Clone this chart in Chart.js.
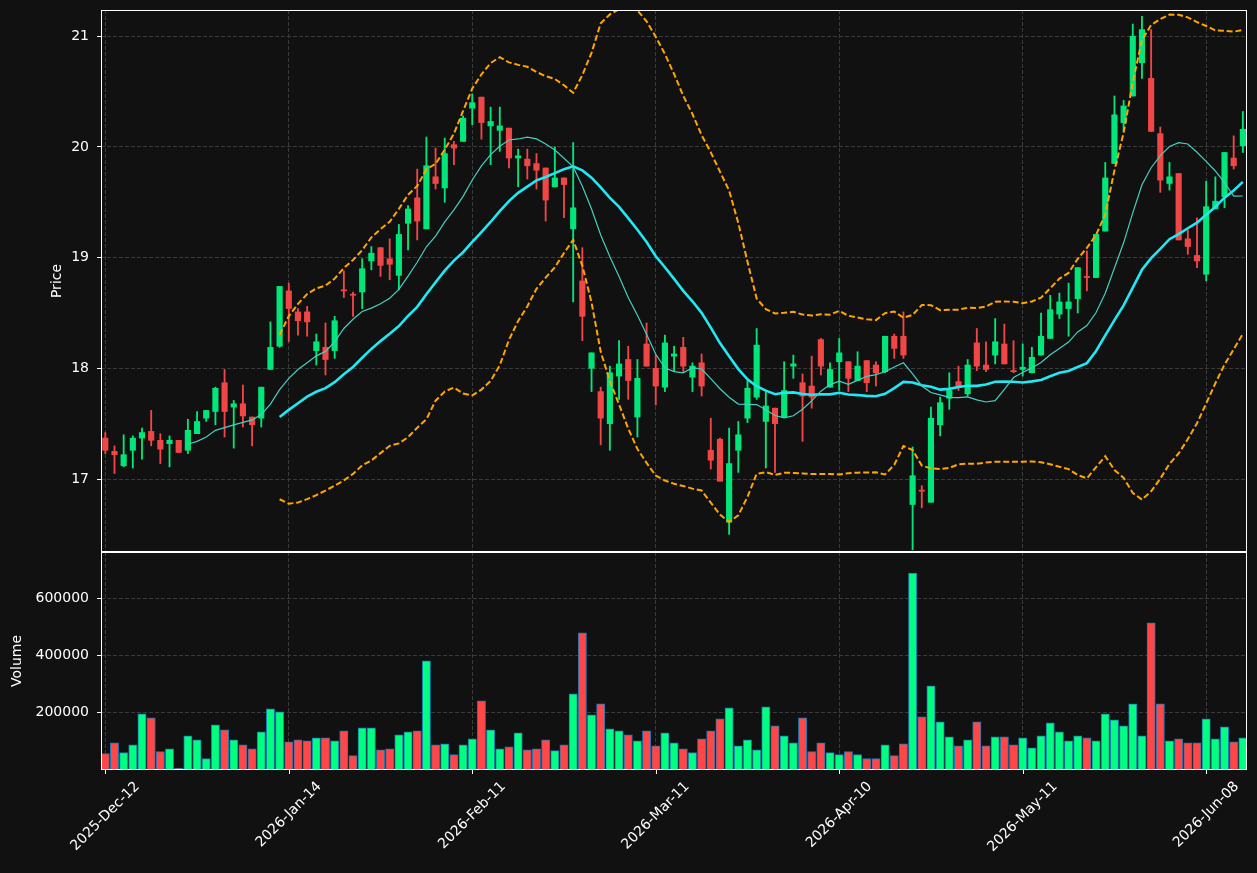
<!DOCTYPE html>
<html><head><meta charset="utf-8">
<script src="https://cdn.jsdelivr.net/npm/chart.js@4.4.1/dist/chart.umd.min.js"></script>
<style>
html,body{margin:0;padding:0;background:#111111;}
#wrap{position:relative;width:1257px;height:873px;background:#111111;overflow:hidden;}
canvas{position:absolute;left:0;}
#pc{top:0;}
#vc{top:552px;}
</style></head><body>
<div id="wrap"><canvas id="pc" width="1257" height="552"></canvas><canvas id="vc" width="1257" height="321"></canvas></div>
<script>
// ---- data ----
const tickPositions = [0, 20, 40, 60, 80, 100, 120];
const tickLabels = ['2025-Dec-12','2026-Jan-14','2026-Feb-11','2026-Mar-11','2026-Apr-10','2026-May-11','2026-Jun-08'];
const priceTicks = [17, 18, 19, 20, 21];
const volumeTicks = [200000, 400000, 600000];

const open = [17.37,17.25,17.12,17.26,17.37,17.43,17.35,17.32,17.35,17.26,17.41,17.55,17.61,17.87,17.65,17.68,17.56,17.55,17.99,18.20,
18.70,18.51,18.51,18.16,18.19,18.16,18.71,18.67,18.69,18.97,19.09,18.99,18.84,19.31,19.54,19.26,19.73,19.63,20.02,20.05,
20.35,20.45,20.19,20.15,20.17,19.90,19.89,19.85,19.81,19.64,19.72,19.26,18.79,18.00,17.79,17.50,17.93,18.08,17.56,18.22,
18.00,17.83,18.11,18.19,17.92,18.05,17.26,17.36,16.61,17.26,17.55,17.74,17.52,17.64,17.56,18.02,17.87,17.84,18.26,17.83,
18.06,18.06,17.89,18.07,18.03,17.97,18.29,18.29,16.77,16.90,16.79,17.49,17.73,17.88,17.77,18.23,18.03,18.12,18.22,17.98,
17.99,17.96,18.12,18.27,18.49,18.54,18.63,18.83,18.82,19.24,19.85,20.22,20.46,20.76,20.62,20.12,19.67,19.76,19.17,19.02,
18.85,19.44,19.55,19.90,20.01];
const high = [17.42,17.30,17.40,17.39,17.46,17.62,17.41,17.39,17.35,17.54,17.61,17.62,17.83,17.99,17.71,17.85,17.56,17.83,18.42,18.74,
18.77,18.54,18.56,18.31,18.41,18.47,18.88,18.69,18.99,19.10,19.09,19.17,19.30,19.47,19.80,20.09,19.99,20.08,20.05,20.28,
20.48,20.45,20.36,20.36,20.17,19.98,19.98,19.94,19.81,20.00,19.72,20.04,19.09,18.14,17.83,18.02,18.25,18.20,18.08,18.41,
18.12,18.30,18.20,18.28,18.05,18.13,17.55,17.37,17.46,17.52,17.89,18.36,17.80,17.64,18.06,18.12,17.95,18.11,18.27,18.05,
18.27,18.06,18.15,18.07,18.06,18.29,18.31,18.51,17.29,16.94,17.65,17.74,17.96,18.02,18.08,18.36,18.24,18.45,18.40,18.25,
18.22,18.19,18.50,18.66,18.68,18.77,18.91,19.06,19.21,19.86,20.46,20.42,21.11,21.18,21.06,20.18,19.86,19.76,19.25,19.36,
19.69,19.73,19.95,20.10,20.32];
const low = [17.23,17.05,17.11,17.10,17.18,17.30,17.14,17.11,17.24,17.23,17.41,17.52,17.49,17.38,17.28,17.47,17.30,17.47,17.99,18.19,
18.24,18.30,18.29,18.03,17.94,18.09,18.64,18.47,18.54,18.89,18.83,18.80,18.71,19.07,19.16,19.26,19.62,19.50,19.84,20.05,
20.20,20.07,19.84,19.96,19.81,19.64,19.71,19.62,19.33,19.64,19.36,18.60,18.25,17.79,17.31,17.26,17.72,17.72,17.38,18.02,
17.67,17.79,17.97,17.97,17.79,17.75,17.09,16.98,16.50,17.06,17.51,17.72,17.10,17.06,17.56,17.91,17.34,17.64,17.94,17.83,
17.80,17.79,17.89,17.79,17.84,17.96,18.09,18.09,16.36,16.74,16.79,17.39,17.63,17.80,17.75,17.98,17.97,18.04,18.04,17.96,
17.93,17.96,18.12,18.27,18.45,18.29,18.50,18.70,18.82,19.24,19.85,20.14,20.46,20.62,20.14,19.59,19.61,19.16,19.03,18.91,
18.79,19.44,19.45,19.80,19.95];
const close = [17.26,17.22,17.22,17.37,17.42,17.35,17.27,17.35,17.24,17.44,17.52,17.62,17.82,17.61,17.68,17.57,17.49,17.83,18.19,18.74,
18.54,18.43,18.42,18.24,18.08,18.43,18.70,18.66,18.90,19.04,18.93,18.94,19.21,19.44,19.33,19.83,19.67,19.94,19.99,20.26,
20.40,20.22,20.23,20.19,19.90,19.92,19.83,19.79,19.52,19.72,19.66,19.45,18.47,18.14,17.55,17.96,18.04,17.89,17.91,18.02,
17.84,18.23,18.13,18.02,18.02,17.84,17.17,16.98,17.14,17.40,17.82,18.21,17.66,17.50,17.80,18.04,17.75,17.74,18.02,17.99,
18.14,17.91,18.02,17.87,17.96,18.29,18.18,18.12,17.03,16.89,17.55,17.69,17.80,17.84,18.03,18.02,17.99,18.24,18.04,17.97,
18.01,18.10,18.29,18.53,18.60,18.60,18.91,18.82,19.21,19.72,20.29,20.37,21.00,21.06,20.14,19.70,19.73,19.16,19.10,18.97,
19.46,19.51,19.95,19.83,20.16];
const volume = [57000,95400,60500,88400,196500,182600,64000,74400,7000,119800,105800,39500,158200,140700,105800,88400,74400,133700,214000,203500,
98900,105800,102300,112800,112800,102300,137200,50000,147700,147700,70900,74400,123300,133700,137200,381500,88400,91900,53500,88400,
109300,241900,140700,74400,81400,130300,70900,74400,105800,67500,88400,266300,479200,193100,231400,144200,137200,123300,102300,137200,
84900,130300,95400,74400,60500,109300,137200,179100,217500,84900,105800,70900,221000,154700,119800,95400,182600,64000,95400,60500,
53500,64000,53500,39500,39500,88400,50000,91900,688500,186100,294200,168600,116300,84900,105800,168600,84900,116300,116300,88400,
112800,77900,119800,165100,133700,102300,119800,112800,102300,196500,175600,154700,231400,119800,514000,231400,102300,109300,95400,95400,
179100,109300,151200,98900,112800];

// ---- indicators from the close series ----
function rollingMean(vals, n) {
  return vals.map((_, i) => {
    if (i < n - 1) return null;
    let s = 0; for (let k = i - n + 1; k <= i; k++) s += vals[k];
    return s / n;
  });
}
function rollingStd(vals, n) {
  const m = rollingMean(vals, n);
  return vals.map((_, i) => {
    if (i < n - 1) return null;
    let s = 0; for (let k = i - n + 1; k <= i; k++) s += (vals[k] - m[i]) ** 2;
    return Math.sqrt(s / (n - 1));
  });
}
const ma10 = rollingMean(close, 10);
const ma20 = rollingMean(close, 20);
const sd20 = rollingStd(close, 20);
const bbUpper = ma20.map((v, i) => v === null ? null : v + 2 * sd20[i]);
const bbLower = ma20.map((v, i) => v === null ? null : v - 2 * sd20[i]);

const pts = arr => arr.map((v, i) => ({x: i, y: v})).filter(p => p.y !== null);
const isUp = close.map((c, i) => c >= open[i]);

// ---- styling ----
const FONT = 'DejaVu Sans';
const GRID = '#3b3b3b';
const candleColors = isUp.map(u => u ? '#00e67a' : '#f04646');
const volColors = isUp.map(u => u ? '#00ff80' : '#ff4747');
const X_MIN = -0.47, X_MAX = 124.45;

Chart.defaults.color = '#ffffff';
Chart.defaults.font.family = FONT;
Chart.defaults.font.size = 14;

const zeroPad = s => { s.paddingTop = 0; s.paddingBottom = 0; s.paddingLeft = 0; s.paddingRight = 0; };
const setXTicks = s => { s.ticks = tickPositions.map(v => ({value: v})); };

const framePlugin = {
  id: 'frame',
  afterDraw(chart) {
    const {ctx, chartArea: a} = chart;
    ctx.save();
    ctx.strokeStyle = '#ffffff';
    ctx.lineWidth = 1;
    ctx.setLineDash([]);
    ctx.strokeRect(Math.round(a.left) + 0.5, Math.round(a.top) + 0.5,
      Math.round(a.right - a.left) - 1, Math.round(a.bottom - a.top) - 1);
    ctx.restore();
  }
};

const xLabelPlugin = {
  id: 'xlabels',
  afterDraw(chart) {
    const {ctx, chartArea: a} = chart;
    const s = chart.scales.x;
    ctx.save();
    ctx.fillStyle = '#ffffff';
    ctx.strokeStyle = '#ffffff';
    ctx.lineWidth = 1;
    ctx.font = '14px "' + FONT + '"';
    tickPositions.forEach((v, k) => {
      const x = s.getPixelForValue(v);
      ctx.beginPath();
      ctx.moveTo(Math.round(x) + 0.5, a.bottom);
      ctx.lineTo(Math.round(x) + 0.5, a.bottom + 4);
      ctx.stroke();
      const w = ctx.measureText(tickLabels[k]).width;
      const side = (w + 15) * Math.SQRT1_2;
      const cy = a.bottom + 9 + side / 2;
      ctx.save();
      ctx.translate(x, cy);
      ctx.rotate(-Math.PI / 4);
      ctx.textAlign = 'center';
      ctx.textBaseline = 'middle';
      ctx.fillText(tickLabels[k], 0, 0);
      ctx.restore();
    });
    ctx.restore();
  }
};

// ---- price chart ----
new Chart(document.getElementById('pc'), {
  type: 'bar',
  data: {
    datasets: [
      {type: 'line', label: 'MA10', data: pts(ma10), borderColor: '#45cfc0', borderWidth: 1.2, pointRadius: 0, order: 0},
      {type: 'line', label: 'MA20', data: pts(ma20), borderColor: '#20e8f4', borderWidth: 2.6, pointRadius: 0, order: 0},
      {type: 'line', label: 'BB Upper', data: pts(bbUpper), borderColor: '#ffa500', borderWidth: 2, borderDash: [6, 2.8], pointRadius: 0, order: 0},
      {type: 'line', label: 'BB Lower', data: pts(bbLower), borderColor: '#ffa500', borderWidth: 2, borderDash: [6, 2.8], pointRadius: 0, order: 0},
      {label: 'Body', data: open.map((o, i) => ({x: i, y: [o, close[i]]})), backgroundColor: candleColors,
       barThickness: 5.5, grouped: false, minBarLength: 1, order: 1},
      {label: 'Wick', data: low.map((l, i) => ({x: i, y: [l, high[i]]})), backgroundColor: candleColors,
       barThickness: 1.2, grouped: false, order: 2}
    ]
  },
  options: {
    responsive: false, animation: false, devicePixelRatio: 1,
    layout: {padding: {left: 45, right: 10, top: 10, bottom: 0}},
    plugins: {legend: {display: false}, tooltip: {enabled: false}},
    scales: {
      x: {
        type: 'linear', min: X_MIN, max: X_MAX, offset: false,
        afterBuildTicks: setXTicks,
        ticks: {display: false},
        grid: {color: GRID, drawTicks: false, offset: false},
        border: {display: false, dash: [4, 2]},
        afterFit: s => { s.height = 0; zeroPad(s); }
      },
      y: {
        min: 16.341, max: 21.237,
        afterBuildTicks: s => { s.ticks = priceTicks.map(v => ({value: v})); },
        ticks: {color: '#ffffff', padding: 8, font: {family: FONT, size: 14}, callback: v => String(v)},
        grid: {color: GRID, tickColor: '#ffffff', tickLength: 4, tickWidth: 1, tickBorderDash: []},
        border: {display: false, dash: [4, 2]},
        title: {display: true, text: 'Price', color: '#ffffff', font: {family: FONT, size: 14}, padding: {top: 4, bottom: 4}},
        afterFit: s => { s.width = 56; zeroPad(s); }
      }
    }
  },
  plugins: [framePlugin]
});

// ---- volume chart ----
new Chart(document.getElementById('vc'), {
  type: 'bar',
  data: {
    datasets: [
      {label: 'Volume', data: volume.map((v, i) => ({x: i, y: v})), backgroundColor: volColors,
       borderColor: '#1f77b4', borderWidth: 1, barThickness: 8.3, grouped: false, minBarLength: 2}
    ]
  },
  options: {
    responsive: false, animation: false, devicePixelRatio: 1,
    layout: {padding: {left: 5, right: 10, top: 0, bottom: 0}},
    plugins: {legend: {display: false}, tooltip: {enabled: false}},
    scales: {
      x: {
        type: 'linear', min: X_MIN, max: X_MAX, offset: false,
        afterBuildTicks: setXTicks,
        ticks: {display: false},
        grid: {color: GRID, drawTicks: false, offset: false},
        border: {display: false, dash: [4, 2]},
        afterFit: s => { s.height = 103; zeroPad(s); }
      },
      y: {
        min: 0, max: 762000,
        afterBuildTicks: s => { s.ticks = volumeTicks.map(v => ({value: v})); },
        ticks: {color: '#ffffff', padding: 8, font: {family: FONT, size: 14}, callback: v => String(v)},
        grid: {color: GRID, tickColor: '#ffffff', tickLength: 4, tickWidth: 1, tickBorderDash: []},
        border: {display: false, dash: [4, 2]},
        title: {display: true, text: 'Volume', color: '#ffffff', font: {family: FONT, size: 14}, padding: {top: 4, bottom: 4}},
        afterFit: s => { s.width = 96; zeroPad(s); }
      }
    }
  },
  plugins: [framePlugin, xLabelPlugin]
});
</script>
</body></html>
